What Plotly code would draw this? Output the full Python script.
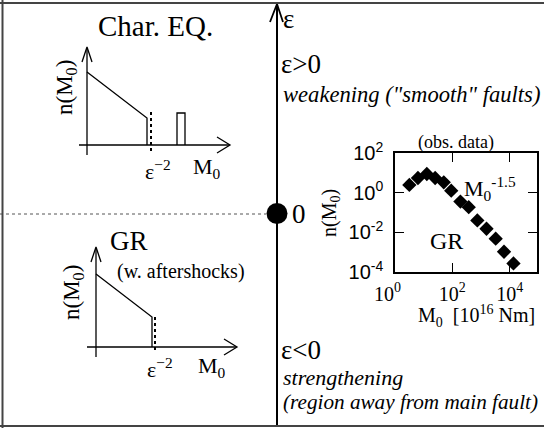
import plotly.graph_objects as go

W, H = 544, 428

# ---- observed data (inset, log-log) ----
obs_log_m0 = [0.50, 0.80, 1.11, 1.40, 1.70, 1.96, 2.28, 2.57, 2.87, 3.19, 3.51, 3.80, 4.13]
obs_log_n = [0.39, 0.74, 0.94, 0.74, 0.52, 0.10, -0.45, -0.73, -1.40, -1.82, -2.32, -2.98, -3.57]
obs_m0 = [10 ** v for v in obs_log_m0]
obs_n = [10 ** v for v in obs_log_n]

x_tickvals = [1, 100, 10000]
x_ticktext = ["10<sup>0</sup>&nbsp;&nbsp;&nbsp;", "10<sup>2</sup>", "10<sup>4</sup>"]
y_tickvals = [1e-4, 1e-2, 1, 1e2]
y_ticktext = ["10<sup>-4</sup>", "10<sup>-2</sup>", "10<sup>0</sup>", "10<sup>2</sup>"]

# ---- schematic geometry (canvas pixel units) ----
eps_axis_x = [277, 277]
eps_axis_y = [426, 4]
eps_head_x = [270, 277, 283]
eps_head_y = [22, 4, 22]
zero_line_x = [0, 266]
zero_line_y = [214, 214]
origin_x = [277]
origin_y = [213.5]

# Characteristic EQ sketch
ce_vax_x = [87, 87]; ce_vax_y = [155, 48]
ce_hax_x = [79, 229]; ce_hax_y = [145, 145]
ce_vhead_x = [82, 87, 92]; ce_vhead_y = [62, 47, 62]
ce_hhead_x = [217, 230, 217]; ce_hhead_y = [137, 145, 153]
ce_curve_x = [87, 147, 147]; ce_curve_y = [72, 118, 145]
ce_dot_x = [151, 151]; ce_dot_y = [112, 151]
ce_bar_x = [177, 177, 185, 185]; ce_bar_y = [145, 113, 113, 145]

# GR sketch
gr_vax_x = [96, 96]; gr_vax_y = [357, 248]
gr_hax_x = [87, 236]; gr_hax_y = [347, 347]
gr_vhead_x = [91, 96, 101]; gr_vhead_y = [262, 247, 262]
gr_hhead_x = [224, 237, 224]; gr_hhead_y = [339, 347, 355]
gr_curve_x = [96, 152, 152]; gr_curve_y = [274, 317, 347]
gr_dot_x = [155, 155]; gr_dot_y = [317, 353]

fig = go.Figure()

# outer frame (top, left, bottom; no right edge)
for x0, y0, x1, y1 in [(0, 1 - 3 / H, 1, 1 - 3 / H),
                       (2.5 / W, 0, 2.5 / W, 1),
                       (0, 1 - 426 / H, 1, 1 - 426 / H)]:
    fig.add_shape(type="line", xref="paper", yref="paper", x0=x0, y0=y0, x1=x1, y1=y1,
                  line=dict(color="#444", width=2), layer="above")


def line(xs, ys, width=1.5, color="black", dash="solid"):
    fig.add_trace(go.Scatter(x=xs, y=ys, mode="lines", xaxis="x", yaxis="y",
                             line=dict(color=color, width=width, dash=dash),
                             hoverinfo="skip", showlegend=False, cliponaxis=False))


line(zero_line_x, zero_line_y, width=1, color="#555", dash="dot")
line(eps_axis_x, eps_axis_y, width=2)
line(eps_head_x, eps_head_y, width=1.8)

for xs, ys in [(ce_vax_x, ce_vax_y), (ce_hax_x, ce_hax_y), (ce_vhead_x, ce_vhead_y),
               (ce_hhead_x, ce_hhead_y), (ce_curve_x, ce_curve_y), (ce_bar_x, ce_bar_y),
               (gr_vax_x, gr_vax_y), (gr_hax_x, gr_hax_y), (gr_vhead_x, gr_vhead_y),
               (gr_hhead_x, gr_hhead_y), (gr_curve_x, gr_curve_y)]:
    line(xs, ys, width=1.3)
line(ce_dot_x, ce_dot_y, width=2, dash="dot")
line(gr_dot_x, gr_dot_y, width=2, dash="dot")

fig.add_trace(go.Scatter(x=origin_x, y=origin_y, mode="markers", xaxis="x", yaxis="y",
                         marker=dict(symbol="circle", size=21, color="black"),
                         hoverinfo="skip", showlegend=False, cliponaxis=False))

fig.add_trace(go.Scatter(x=obs_m0, y=obs_n, mode="markers", xaxis="x2", yaxis="y2",
                         marker=dict(symbol="diamond", size=11, color="black"),
                         hoverinfo="skip", showlegend=False, cliponaxis=False))

serif = "Liberation Serif"
sans = "Liberation Sans"


def txt(x, y, s, size, xanchor="center", italic=False, angle=0, font=serif):
    fig.add_annotation(x=x, y=y, xref="x", yref="y", text=s, showarrow=False,
                       xanchor=xanchor, yanchor="middle", textangle=angle,
                       font=dict(family=font, size=size, color="black",
                                 style="italic" if italic else "normal"))


txt(155, 26, "Char. EQ.", 29)
txt(66, 88, "n(M<sub>0</sub>)", 23, angle=-90)
txt(158, 170, "ε<sup>−2</sup>", 22)
txt(207, 168, "M<sub>0</sub>", 22)
txt(129, 241, "GR", 27)
txt(181, 271, "(w. aftershocks)", 20)
txt(73, 293, "n(M<sub>0</sub>)", 23, angle=-90)
txt(160, 368, "ε<sup>−2</sup>", 22)
txt(212, 367, "M<sub>0</sub>", 22)

txt(281, 19, "ε", 27, xanchor="left")
txt(290, 214, "0", 27, xanchor="left")
txt(279, 64, "ε>0", 27, xanchor="left")
txt(281, 94, "weakening (\"smooth\" faults)", 22.6, xanchor="left", italic=True)
txt(279, 350, "ε<0", 27, xanchor="left")
txt(281, 377, "strengthening", 22, xanchor="left", italic=True)
txt(281, 402, "(region away from main fault)", 21.2, xanchor="left", italic=True)

txt(456, 142, "(obs. data)", 18)
txt(490, 188, "M<sub>0</sub><sup>-1.5</sup>", 22)
txt(446, 241, "GR", 24)
txt(330, 213, "n(M<sub>0</sub>)", 20, angle=-90)
txt(476, 316, "M<sub>0</sub>  [10<sup>16</sup> Nm]", 20)

fig.update_layout(
    width=W, height=H, margin=dict(l=0, r=0, t=0, b=0, pad=0, autoexpand=False),
    paper_bgcolor="white", plot_bgcolor="rgba(0,0,0,0)",
    xaxis=dict(range=[0, W], domain=[0, 1], visible=False, fixedrange=True, automargin=False),
    yaxis=dict(range=[H, 0], domain=[0, 1], visible=False, fixedrange=True, automargin=False),
    xaxis2=dict(type="log", range=[0, 4.95], domain=[395 / W, 537 / W], anchor="y2",
                showline=True, linecolor="black", linewidth=1.5, mirror="allticks",
                ticks="inside", ticklen=9, tickcolor="black", tickwidth=1, automargin=False,
                tickvals=x_tickvals, ticktext=x_ticktext, showgrid=False, zeroline=False,
                ticklabelstandoff=3,
                tickfont=dict(family=serif, size=20, color="black")),
    yaxis2=dict(type="log", range=[-4, 2], domain=[1 - 272 / H, 1 - 153 / H], anchor="x2",
                showline=True, linecolor="black", linewidth=1.5, mirror="allticks",
                ticks="inside", ticklen=9, tickcolor="black", tickwidth=1, automargin=False,
                tickvals=y_tickvals, ticktext=y_ticktext, showgrid=False, zeroline=False,
                ticklabelstandoff=6,
                tickfont=dict(family=sans, size=20, color="black")),
)

fig.write_html("out.html",
               config={"displayModeBar": False},
               post_script="document.body.style.margin='0px';"
                           "document.body.style.overflow='hidden';")
